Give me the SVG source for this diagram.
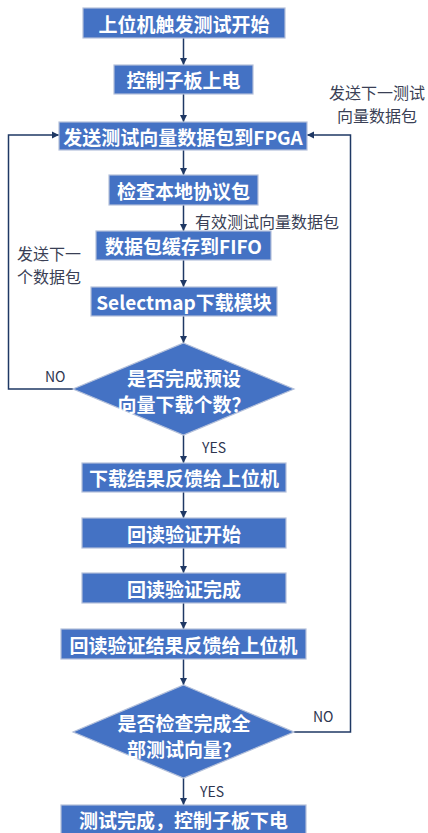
<svg xmlns="http://www.w3.org/2000/svg" width="428" height="833" viewBox="0 0 428 833">
<style>
.box{fill:#4472C4;stroke:#B4C0DA;stroke-width:1.2}
.bt{font-family:"Noto Sans CJK SC","Noto Sans",sans-serif;font-size:19px;font-weight:bold;fill:#fff;text-anchor:middle;dominant-baseline:central}
.lb{font-family:"Noto Sans CJK SC","Noto Sans",sans-serif;font-size:16px;fill:#3A3F55;dominant-baseline:central}
.yn{font-family:"Noto Sans CJK SC","Noto Sans",sans-serif;font-size:14px;fill:#2E3550;dominant-baseline:central}
.ln{fill:none;stroke:#1F3864;stroke-width:1.5}
</style>
<defs>
<marker id="ah" markerWidth="8" markerHeight="8" refX="7" refY="4" orient="auto" markerUnits="userSpaceOnUse">
<path d="M0,0.5 L7,4 L0,7.5 Z" fill="#1F3864"/>
</marker>
</defs>
<g id="connectors">
<line class="ln" x1="183.5" y1="38" x2="183.5" y2="65" marker-end="url(#ah)"/>
<line class="ln" x1="183.5" y1="94" x2="183.5" y2="122" marker-end="url(#ah)"/>
<line class="ln" x1="183.5" y1="150" x2="183.5" y2="175" marker-end="url(#ah)"/>
<line class="ln" x1="183.5" y1="205" x2="183.5" y2="231" marker-end="url(#ah)"/>
<line class="ln" x1="183.5" y1="260" x2="183.5" y2="287" marker-end="url(#ah)"/>
<line class="ln" x1="183.5" y1="316" x2="183.5" y2="343" marker-end="url(#ah)"/>
<line class="ln" x1="183.5" y1="435" x2="183.5" y2="463" marker-end="url(#ah)"/>
<line class="ln" x1="183.5" y1="492" x2="183.5" y2="518" marker-end="url(#ah)"/>
<line class="ln" x1="183.5" y1="548" x2="183.5" y2="573" marker-end="url(#ah)"/>
<line class="ln" x1="183.5" y1="603" x2="183.5" y2="629" marker-end="url(#ah)"/>
<line class="ln" x1="183.5" y1="659" x2="183.5" y2="685" marker-end="url(#ah)"/>
<line class="ln" x1="183.5" y1="778" x2="183.5" y2="805" marker-end="url(#ah)"/>
<polyline class="ln" points="73,389 8.5,389 8.5,135 59,135" marker-end="url(#ah)"/>
<polyline class="ln" points="294,732 350.5,732 350.5,135 307,135" marker-end="url(#ah)"/>
<text class="lb" x="195" y="221">有效测试向量数据包</text>
<text class="lb" x="17" y="253">发送下一</text>
<text class="lb" x="17" y="276">个数据包</text>
<text class="lb" x="377" y="92" text-anchor="middle">发送下一测试</text>
<text class="lb" x="377" y="115" text-anchor="middle">向量数据包</text>
<text class="yn" x="45" y="376">NO</text>
<text class="yn" x="202" y="447">YES</text>
<text class="yn" x="313" y="716">NO</text>
<text class="yn" x="200" y="791">YES</text>
</g>
<g id="n1"><rect class="box" x="83" y="8" width="202" height="30"/><text class="bt" x="184" y="23">上位机触发测试开始</text></g>
<g id="n2"><rect class="box" x="114" y="65" width="139" height="29"/><text class="bt" x="183.5" y="79.5">控制子板上电</text></g>
<g id="n3"><rect class="box" x="59" y="122" width="248" height="28"/><text class="bt" x="183" y="136">发送测试向量数据包到FPGA</text></g>
<g id="n4"><rect class="box" x="109" y="175" width="149" height="30"/><text class="bt" x="183.5" y="190">检查本地协议包</text></g>
<g id="n5"><rect class="box" x="96" y="231" width="175" height="29"/><text class="bt" x="183.5" y="245.5">数据包缓存到FIFO</text></g>
<g id="n6"><rect class="box" x="91" y="287" width="186" height="29"/><text class="bt" x="184" y="301.5">Selectmap下载模块</text></g>
<g id="d1"><polygon class="box" points="183.5,343 294,389 183.5,435 73,389"/><text class="bt" x="184" y="377">是否完成预设</text><text class="bt" x="184" y="403">向量下载个数？</text></g>
<g id="n7"><rect class="box" x="82" y="463" width="204" height="29"/><text class="bt" x="184" y="477.5">下载结果反馈给上位机</text></g>
<g id="n8"><rect class="box" x="82" y="518" width="204" height="30"/><text class="bt" x="184" y="533">回读验证开始</text></g>
<g id="n9"><rect class="box" x="82" y="573" width="204" height="30"/><text class="bt" x="184" y="588">回读验证完成</text></g>
<g id="n10"><rect class="box" x="61" y="629" width="245" height="30"/><text class="bt" x="183.5" y="644">回读验证结果反馈给上位机</text></g>
<g id="d2"><polygon class="box" points="183.5,685 294,732 183.5,778 73,732"/><text class="bt" x="184" y="722">是否检查完成全</text><text class="bt" x="184" y="748">部测试向量？</text></g>
<g id="n11"><rect class="box" x="61" y="805" width="245" height="30"/><text class="bt" x="183.5" y="819">测试完成，控制子板下电</text></g>
</svg>
